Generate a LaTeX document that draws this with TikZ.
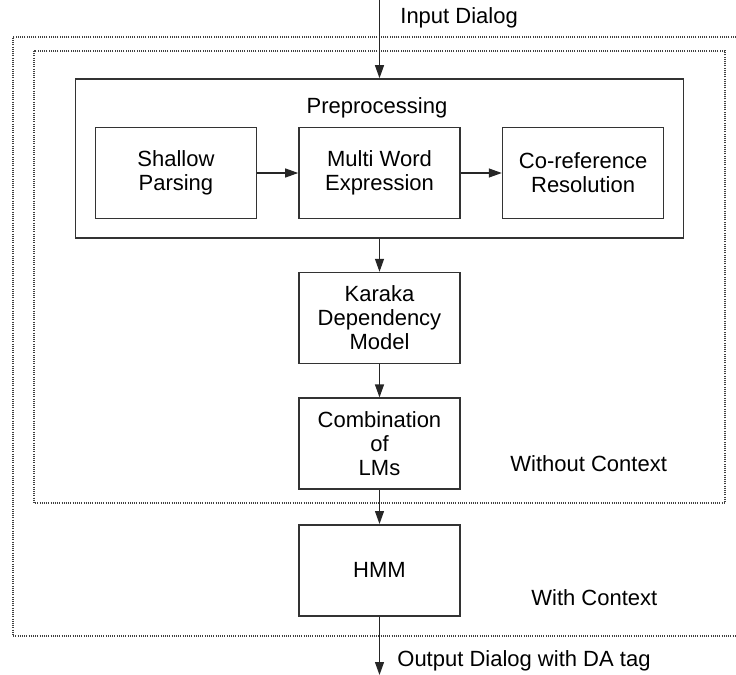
\documentclass[tikz,border=0pt]{standalone}
\usepackage{fontspec}
\setmainfont{Liberation Sans}
\usetikzlibrary{arrows.meta,positioning}
\tikzset{
  dablock/.style={
    draw=black!80,
    line width=0.8pt,
    align=center,
    minimum width=80.5pt,
    minimum height=45.5pt,
    inner sep=0pt
  },
  dagroup/.style={
    draw=black!80,
    line width=0.8pt,
    minimum width=304pt,
    minimum height=79.5pt,
    inner sep=0pt
  },
  dazone/.style={
    draw=black!75,
    line width=0.7pt,
    dash pattern=on 0.5pt off 0.6pt
  },
  daarrow/.style={
    -{Triangle[length=6.5pt,width=4.5pt]},
    line width=0.6pt,
    black!85
  },
  dalabel/.style={
    anchor=west,
    inner sep=0pt
  }
}

\begin{document}
\begin{tikzpicture}[x=0.5pt,y=-0.5pt,font=\fontsize{11}{12}\selectfont]
    \useasboundingbox (0,0) rectangle (736,675);
    % context zones
    \draw[dazone] (736,37) -- (13,37) -- (13,636) -- (736,636);
    \draw[dazone] (34,51) rectangle (725,503);

    \node[dagroup] (pre) at (379.5,158.5) {};
    \node (pretitle) at (377,108) {Preprocessing};
    \node[dablock] (mwe) at (379.5,173) {Multi Word\\Expression};
    \node[dablock, left=20.5pt of mwe] (shallow) {Shallow\\Parsing};
    \node[dablock, right=20.5pt of mwe] (coref) {Co-reference\\Resolution};

    \node[dablock, below=16.5pt of pre] (karaka) {Karaka\\Dependency\\Model};
    \node[dablock, below=16.5pt of karaka] (comb) {Combination\\of\\LMs};
    \node[dablock, below=17pt of comb] (hmm) {HMM};

    \coordinate (in) at (379.5,0);
    \coordinate (out) at (379.5,675);
    \node[dalabel] (inlabel) at (400,18) {Input Dialog};
    \node[dalabel] (outlabel) at (397,661) {Output Dialog with DA tag};
    \node[dalabel] (nocontext) at (510,464) {Without Context};
    \node[dalabel] (context) at (531,598) {With Context};

    \draw[daarrow] (in) -- (pre);
    \draw[daarrow] (shallow) -- (mwe);
    \draw[daarrow] (mwe) -- (coref);
    \draw[daarrow] (pre) -- (karaka);
    \draw[daarrow] (karaka) -- (comb);
    \draw[daarrow] (comb) -- (hmm);
    \draw[daarrow] (hmm) -- (out);
\end{tikzpicture}
\end{document}
